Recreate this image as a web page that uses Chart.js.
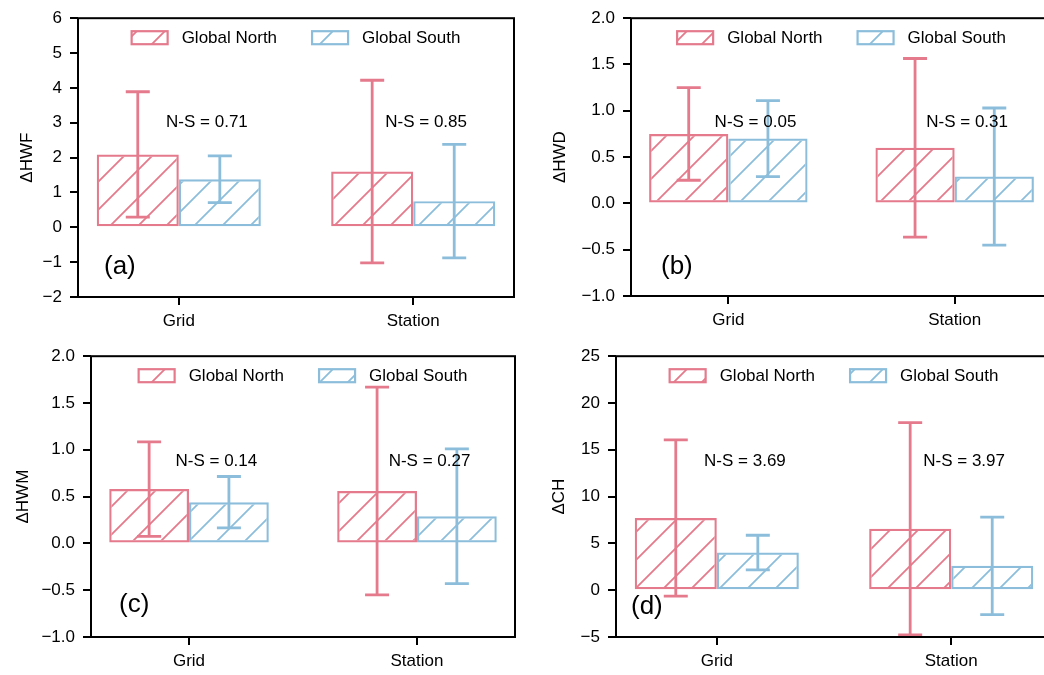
<!DOCTYPE html>
<html>
<head>
<meta charset="utf-8">
<title>Heatwave change: Global North vs Global South</title>
<script src="https://cdn.jsdelivr.net/npm/chart.js@4.4.1/dist/chart.umd.min.js"></script>
<style>
    html, body { margin: 0; padding: 0; background: #fff; overflow: hidden; }
    #figure { position: relative; width: 1044px; height: 675px; overflow: hidden; }
    #figure canvas { position: absolute; }
</style>
</head>
<body>
<div id="figure">
    <canvas id="chartA" width="522" height="338" style="left:0;top:0"></canvas>
    <canvas id="chartB" width="540" height="338" style="left:522px;top:0"></canvas>
    <canvas id="chartC" width="522" height="337" style="left:0;top:338px"></canvas>
    <canvas id="chartD" width="540" height="337" style="left:522px;top:338px"></canvas>
</div>
<script>
// Data
const CATEGORIES = ["Grid", "Station"];
const SERIES = ["Global North", "Global South"];

// (a) heatwave frequency
const HWF_NORTH = [2.09, 1.60];
const HWF_SOUTH = [1.38, 0.75];
const HWF_NORTH_ERR = [1.80, 2.62];
const HWF_SOUTH_ERR = [0.67, 1.63];
const HWF_NS = ["0.71", "0.85"];
const HWF_TICKS = [-2, -1, 0, 1, 2, 3, 4, 5, 6];

// (b) heatwave duration
const HWD_NORTH = [0.75, 0.60];
const HWD_SOUTH = [0.70, 0.29];
const HWD_NORTH_ERR = [0.50, 0.965];
const HWD_SOUTH_ERR = [0.41, 0.74];
const HWD_NS = ["0.05", "0.31"];
const HWD_TICKS = [-1.0, -0.5, 0.0, 0.5, 1.0, 1.5, 2.0];

// (c) heatwave magnitude
const HWM_NORTH = [0.58, 0.56];
const HWM_SOUTH = [0.44, 0.29];
const HWM_NORTH_ERR = [0.505, 1.11];
const HWM_SOUTH_ERR = [0.275, 0.72];
const HWM_NS = ["0.14", "0.27"];
const HWM_TICKS = [-1.0, -0.5, 0.0, 0.5, 1.0, 1.5, 2.0];

// (d) cumulative heat
const CH_NORTH = [7.71, 6.57];
const CH_SOUTH = [4.02, 2.60];
const CH_NORTH_ERR = [8.35, 11.34];
const CH_SOUTH_ERR = [1.85, 5.2];
const CH_NS = ["3.69", "3.97"];
const CH_TICKS = [-5, 0, 5, 10, 15, 20, 25];

// Style
const NORTH_COLOR = "#e47a8c";
const SOUTH_COLOR = "#8cbedb";
const FONT_FAMILY = "'Liberation Sans', Arial, sans-serif";
const NS_OFFSETS = [0.12, 0.055]; // label x offset from each category tick
const X_MIN = -0.43;
const X_MAX = 1.43;

Chart.defaults.font.family = FONT_FAMILY;
Chart.defaults.font.size = 17;
Chart.defaults.color = "#000";

// Layout of each panel (canvas pixels)
const PANELS = [
    { id: "chartA", tag: "(a)", title: "\u0394HWF", north: HWF_NORTH, south: HWF_SOUTH,
      northErr: HWF_NORTH_ERR, southErr: HWF_SOUTH_ERR, ns: HWF_NS, ticks: HWF_TICKS, decimals: 0,
      area: { left: 78, top: 15, right: 514, bottom: 297 }, titlePad: 17, tagPos: [26, 30] },
    { id: "chartB", tag: "(b)", title: "\u0394HWD", north: HWD_NORTH, south: HWD_SOUTH,
      northErr: HWD_NORTH_ERR, southErr: HWD_SOUTH_ERR, ns: HWD_NS, ticks: HWD_TICKS, decimals: 1,
      area: { left: 109, top: 15, right: 530, bottom: 296 }, titlePad: 28, tagPos: [30, 29] },
    { id: "chartC", tag: "(c)", title: "\u0394HWM", north: HWM_NORTH, south: HWM_SOUTH,
      northErr: HWM_NORTH_ERR, southErr: HWM_SOUTH_ERR, ns: HWM_NS, ticks: HWM_TICKS, decimals: 1,
      area: { left: 91, top: 17, right: 515, bottom: 299 }, titlePad: 13, tagPos: [28, 32] },
    { id: "chartD", tag: "(d)", title: "\u0394CH", north: CH_NORTH, south: CH_SOUTH,
      northErr: CH_NORTH_ERR, southErr: CH_SOUTH_ERR, ns: CH_NS, ticks: CH_TICKS, decimals: 0,
      area: { left: 94, top: 17, right: 530, bottom: 299 }, titlePad: 27, tagPos: [15, 30] }
];

// Diagonal "/" hatch like matplotlib
function makeHatch(color) {
    const size = 28;
    const c = document.createElement("canvas");
    c.width = size;
    c.height = size;
    const g = c.getContext("2d");
    g.strokeStyle = color;
    g.lineWidth = 1.8;
    g.beginPath();
    g.moveTo(0, size); g.lineTo(size, 0);
    g.moveTo(-4, 4); g.lineTo(4, -4);
    g.moveTo(size - 4, size + 4); g.lineTo(size + 4, size - 4);
    g.stroke();
    return g.createPattern(c, "repeat");
}

function formatTick(value, decimals) {
    return value.toFixed(decimals).replace("-", "\u2212");
}

// Error bars, frame, legend and text labels
const panelDecor = {
    id: "panelDecor",
    afterDatasetsDraw(chart, args, opts) {
        const ctx = chart.ctx;
        const area = chart.chartArea;
        const xs = chart.scales.x;
        const ys = chart.scales.y;

        // error bars
        chart.data.datasets.forEach((ds, i) => {
            const meta = chart.getDatasetMeta(i);
            ctx.save();
            ctx.strokeStyle = ds.borderColor;
            ctx.lineWidth = 2.8;
            meta.data.forEach((bar, j) => {
                const v = ds.data[j].y;
                const top = ys.getPixelForValue(v + ds.errors[j]);
                const bottom = ys.getPixelForValue(v - ds.errors[j]);
                ctx.beginPath();
                ctx.moveTo(bar.x, top); ctx.lineTo(bar.x, bottom);
                ctx.moveTo(bar.x - 12, top); ctx.lineTo(bar.x + 12, top);
                ctx.moveTo(bar.x - 12, bottom); ctx.lineTo(bar.x + 12, bottom);
                ctx.stroke();
            });
            ctx.restore();
        });

        ctx.save();
        // frame
        ctx.strokeStyle = "#000";
        ctx.lineWidth = 2;
        ctx.strokeRect(area.left, area.top, area.right - area.left, area.bottom - area.top);

        // legend inside the top of the axes
        ctx.font = "17px " + FONT_FAMILY;
        ctx.textBaseline = "middle";
        ctx.textAlign = "left";
        const patchW = 36, patchH = 13, textGap = 14, itemGap = 35;
        const items = chart.data.datasets.map(ds => ({ ds, w: ctx.measureText(ds.label).width }));
        let total = items.reduce((s, it) => s + patchW + textGap + it.w, 0) + itemGap * (items.length - 1);
        let x = (area.left + area.right) / 2 - total / 2;
        const cy = area.top + 19.5;
        items.forEach(it => {
            ctx.fillStyle = it.ds.backgroundColor;
            ctx.fillRect(x, cy - patchH / 2, patchW, patchH);
            ctx.strokeStyle = it.ds.borderColor;
            ctx.lineWidth = 2.2;
            ctx.strokeRect(x, cy - patchH / 2, patchW, patchH);
            ctx.fillStyle = "#000";
            ctx.fillText(it.ds.label, x + patchW + textGap, cy + 1);
            x += patchW + textGap + it.w + itemGap;
        });

        // N-S differences
        ctx.textAlign = "center";
        const nsY = area.bottom - 0.625 * (area.bottom - area.top);
        opts.ns.forEach((txt, i) => {
            ctx.fillText("N-S = " + txt, xs.getPixelForValue(i + NS_OFFSETS[i]), nsY);
        });

        // panel tag
        ctx.textAlign = "left";
        ctx.font = "26px " + FONT_FAMILY;
        ctx.fillText(opts.tag, area.left + opts.tagPos[0], area.bottom - opts.tagPos[1]);
        ctx.restore();
    }
};

function buildPanel(p) {
    const canvas = document.getElementById(p.id);
    const w = canvas.width;
    const h = canvas.height;

    const datasets = [
        { label: SERIES[0], values: p.north, errors: p.northErr, color: NORTH_COLOR },
        { label: SERIES[1], values: p.south, errors: p.southErr, color: SOUTH_COLOR }
    ].map(s => ({
        label: s.label,
        data: s.values.map((v, i) => ({ x: i, y: v })),
        errors: s.errors,
        backgroundColor: makeHatch(s.color),
        borderColor: s.color,
        borderWidth: 2.2,
        borderSkipped: false,
        categoryPercentage: 0.7,
        barPercentage: 1.0
    }));

    return new Chart(canvas, {
        type: "bar",
        data: { datasets },
        options: {
            responsive: false,
            animation: false,
            devicePixelRatio: 1,
            layout: { padding: { top: p.area.top, right: w - p.area.right, left: 0, bottom: 0 } },
            plugins: {
                legend: { display: false },
                tooltip: { enabled: false },
                panelDecor: { ns: p.ns, tag: p.tag, tagPos: p.tagPos }
            },
            scales: {
                x: {
                    type: "linear",
                    min: X_MIN,
                    max: X_MAX,
                    offset: false,
                    afterBuildTicks: s => { s.ticks = CATEGORIES.map((c, i) => ({ value: i })); },
                    afterFit: s => { s.height = h - p.area.bottom; },
                    grid: { offset: false, drawOnChartArea: false, drawTicks: true, tickLength: 8, color: "#000", lineWidth: 2 },
                    border: { display: false },
                    ticks: { padding: 6, maxRotation: 0, autoSkip: false, callback: v => CATEGORIES[v] }
                },
                y: {
                    min: p.ticks[0],
                    max: p.ticks[p.ticks.length - 1],
                    afterBuildTicks: s => { s.ticks = p.ticks.map(v => ({ value: v })); },
                    afterFit: s => { s.width = p.area.left; },
                    grid: { drawOnChartArea: false, drawTicks: true, tickLength: 8, color: "#000", lineWidth: 2 },
                    border: { display: false },
                    ticks: { padding: 8, autoSkip: false, callback: v => formatTick(v, p.decimals) },
                    title: { display: true, text: p.title, padding: { top: p.titlePad, bottom: 0 }, font: { size: 17 } }
                }
            }
        },
        plugins: [panelDecor]
    });
}

PANELS.forEach(buildPanel);
</script>
</body>
</html>
